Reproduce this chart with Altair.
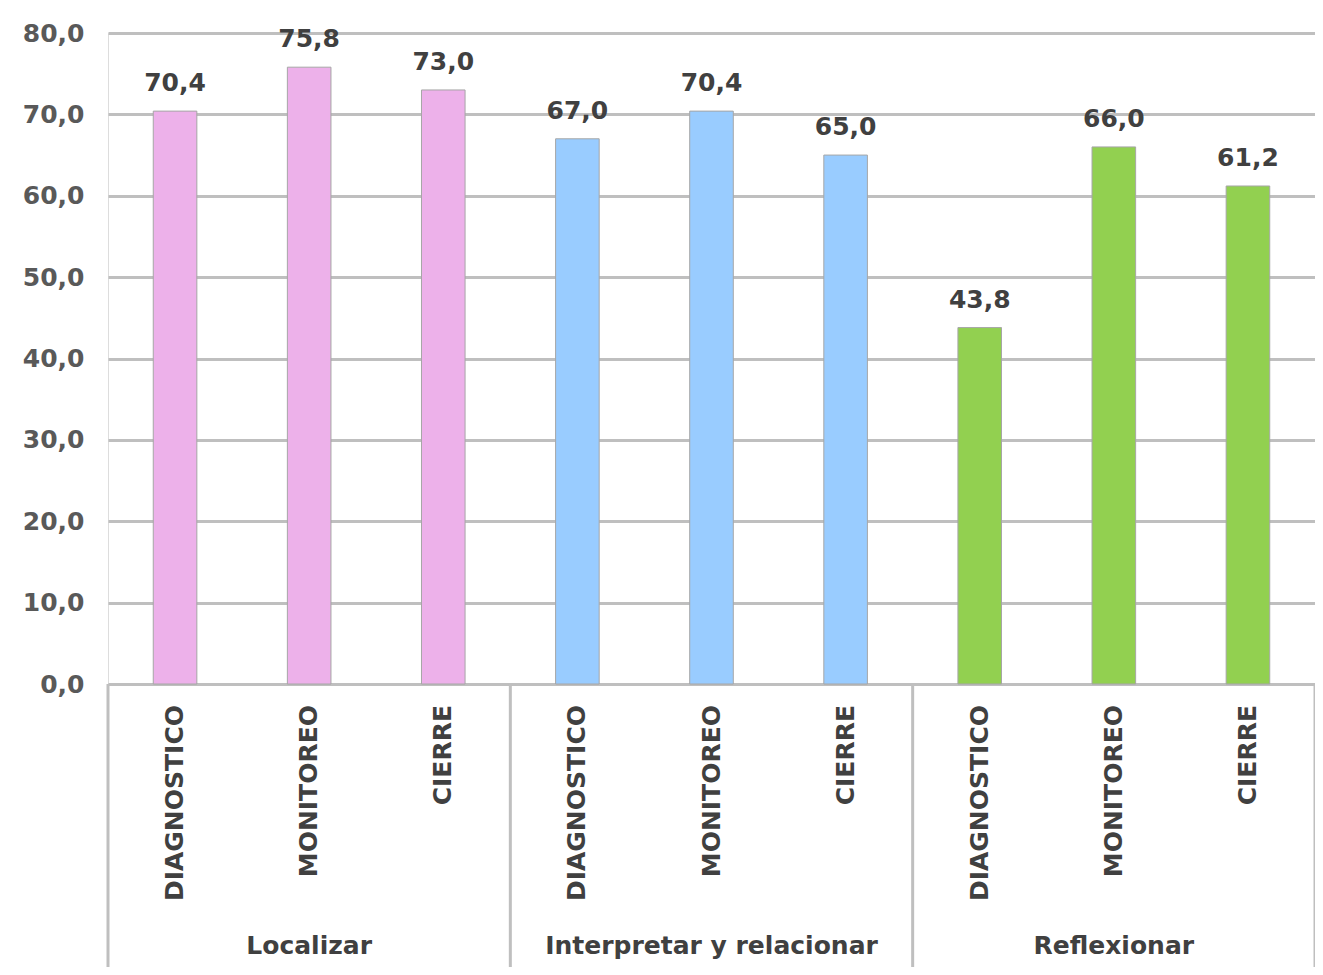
import altair as alt
import pandas as pd

groups = ["Localizar", "Interpretar y relacionar", "Reflexionar"]
phases = ["DIAGNOSTICO", "MONITOREO", "CIERRE"]
values_localizar = [70.4, 75.8, 73.0]
values_interpretar = [67.0, 70.4, 65.0]
values_reflexionar = [43.8, 66.0, 61.2]
group_colors = ["#EDB1EA", "#99CCFF", "#92D050"]
y_ticks = [0, 10, 20, 30, 40, 50, 60, 70, 80]

rows = []
for g, vals in zip(groups, [values_localizar, values_interpretar, values_reflexionar]):
    for p, v in zip(phases, vals):
        rows.append({"key": f"{g}|{p}", "group": g, "phase": p, "value": v})
df = pd.DataFrame(rows)
order = list(df["key"])

grp_df = pd.DataFrame({"key": [order[1], order[4], order[7]], "group": groups})
sep_start = pd.DataFrame({"key": [order[0], order[3], order[6]]})
sep_end = pd.DataFrame({"key": [order[8]]})

W, H = 1207, 651
PAD_B = 283
FONT = "DejaVu Sans"
x_scale = alt.Scale(domain=order, paddingInner=0, paddingOuter=0)
y_scale = alt.Scale(domain=[0, 80], nice=False)

def X(bp=None):
    if bp is None:
        return alt.X("key:N", scale=x_scale, axis=None, sort=order)
    return alt.X("key:N", scale=x_scale, axis=None, sort=order, bandPosition=bp)

bars = alt.Chart(df).mark_bar(
    width=alt.RelativeBandSize(0.325), stroke="#A6A6A6", strokeWidth=1
).encode(
    x=X(),
    y=alt.Y(
        "value:Q",
        scale=y_scale,
        axis=alt.Axis(
            values=y_ticks,
            labelExpr="replace(format(datum.value, '.1f'), '.', ',')",
            domain=False,
            ticks=False,
            grid=True,
            gridColor="#BFBFBF",
            gridWidth=3,
            labelFont=FONT,
            labelFontSize=25,
            labelFontWeight="bold",
            labelColor="#595959",
            labelPadding=24,
            title=None,
        ),
    ),
    color=alt.Color("group:N", scale=alt.Scale(domain=groups, range=group_colors), legend=None),
)

value_labels = alt.Chart(df).transform_calculate(
    label="replace(format(datum.value, '.1f'), '.', ',')"
).mark_text(
    dy=-20, baseline="alphabetic", align="center", font=FONT, fontSize=25,
    fontWeight="bold", color="#404040"
).encode(
    x=X(), y=alt.Y("value:Q", scale=y_scale), text="label:N"
)

phase_labels = alt.Chart(df).mark_text(
    angle=270, align="right", baseline="middle", font=FONT, fontSize=25,
    fontWeight="bold", color="#404040"
).encode(
    x=X(), y=alt.value(672), text="phase:N"
)

group_labels = alt.Chart(grp_df).mark_text(
    align="center", baseline="alphabetic", font=FONT, fontSize=25,
    fontWeight="bold", color="#404040"
).encode(
    x=X(), y=alt.value(921), text="group:N"
)

sep1 = alt.Chart(sep_start).mark_rule(color="#BFBFBF", strokeWidth=3).encode(
    x=X(0), y=alt.value(H), y2=alt.value(H + PAD_B)
)
sep2 = alt.Chart(sep_end).mark_rule(color="#BFBFBF", strokeWidth=3).encode(
    x=X(1), y=alt.value(H), y2=alt.value(H + PAD_B)
)

chart = alt.layer(bars, value_labels, phase_labels, group_labels, sep1, sep2).properties(
    width=W,
    height=H,
    autosize=alt.AutoSizeParams(type="none"),
    padding={"left": 100, "top": 25, "right": 0, "bottom": PAD_B},
).configure_view(stroke=None).configure(background="white")

chart.save("out.html", embed_options={"renderer": "svg", "actions": False})
